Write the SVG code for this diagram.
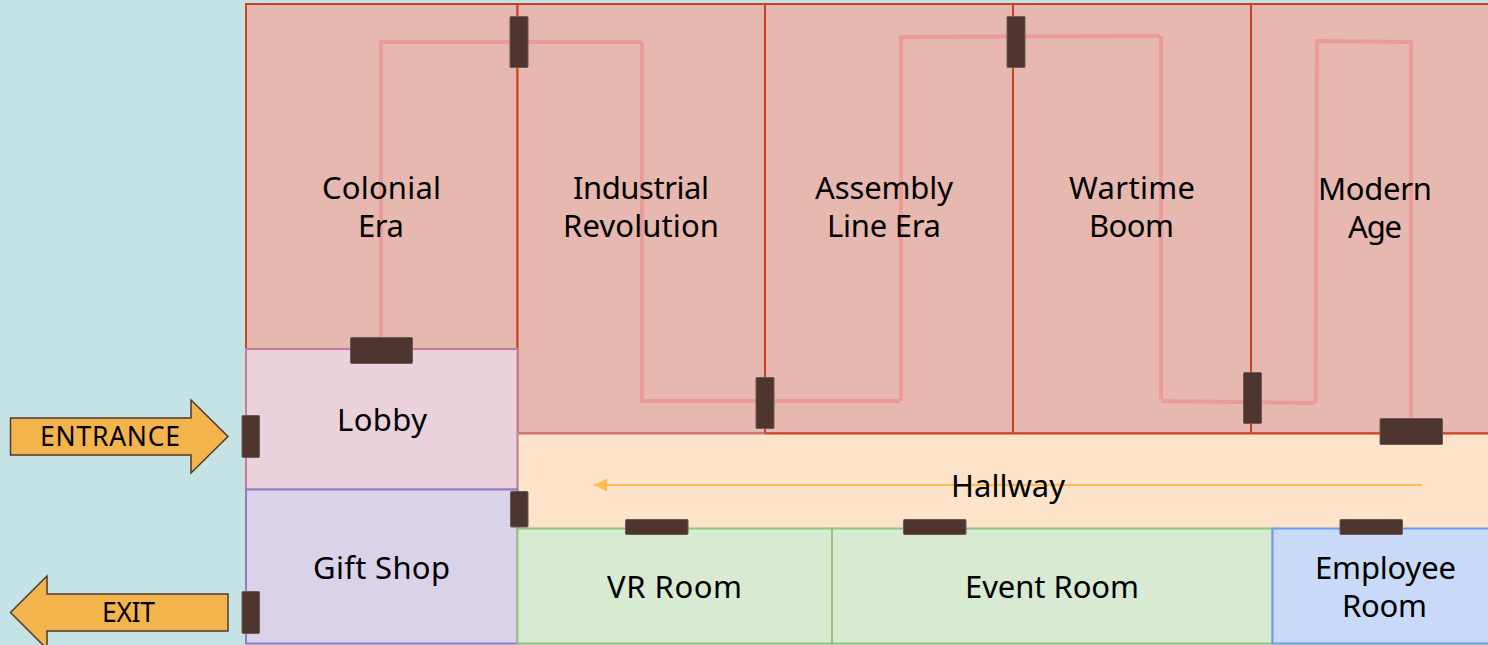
<svg xmlns="http://www.w3.org/2000/svg" width="1488" height="645" viewBox="0 0 1488 645">
<style>
.t{font-family:"Noto Sans","Open Sans",sans-serif;font-size:31px;fill:#000;text-anchor:middle}
.a{font-family:"Noto Sans","Open Sans",sans-serif;font-size:26.500px;fill:#000;text-anchor:middle}
.era{fill:#e6b8af;stroke:#cc4125;stroke-width:2}
.path{fill:none;stroke:#ea9999;stroke-width:4;opacity:.95}
.door{fill:#4e342e;stroke:#6b5a54;stroke-width:1}
.arrow{fill:#f4b44c;stroke:#4e3a2e;stroke-width:1.5}
</style>
<defs><marker id="h" markerUnits="userSpaceOnUse" markerWidth="13" markerHeight="13" refX="13" refY="6.500" orient="auto"><path d="M0 0L13 6.500L0 13z" fill="#ffbb4d"/></marker></defs>
<rect width="1488" height="645" fill="#c5e3e4"/>
<g id="colonial"><rect class="era" x="246" y="4" width="271.500" height="345"/></g>
<g id="industrial"><path class="era" d="M517.500 4H765V433.500H517.500Z"/></g>
<g id="assembly"><rect class="era" x="765" y="4" width="248" height="429.500"/></g>
<g id="wartime"><rect class="era" x="1013" y="4" width="238" height="429.500"/></g>
<g id="modern"><rect class="era" x="1251" y="4" width="239" height="429.500"/></g>
<g id="hallway-room"><path d="M517.500 433.500H1490V528H517.500Z" fill="#fde3c9"/><path d="M517.500 433.500H765" stroke="#c9737c" stroke-width="2" fill="none"/><path d="M765 433.500H1490" stroke="#cc4125" stroke-width="2" fill="none"/></g>
<g id="lobby"><rect x="246" y="349" width="271.500" height="140.500" fill="#ead1dc" stroke="#c27ba0" stroke-width="2"/></g>
<g id="giftshop"><rect x="246" y="489.500" width="271.500" height="154" fill="#d9d2e9" stroke="#8e7cc3" stroke-width="2"/></g>
<g id="vr"><rect x="517.500" y="528.500" width="314.500" height="115" fill="#d9ead3" stroke="#93c47d" stroke-width="2"/></g>
<g id="event"><rect x="832" y="528.500" width="440.500" height="115" fill="#d9ead3" stroke="#93c47d" stroke-width="2"/></g>
<g id="employee"><rect x="1272.500" y="528.500" width="218" height="115" fill="#c9daf8" stroke="#6d9eeb" stroke-width="2"/></g>
<g id="connectors">
<path class="path" d="M381 340V42H641"/><path class="path" d="M642 42V401H900"/><path class="path" d="M901 401V37L1160 36"/><path class="path" d="M1161 36V399"/><path class="path" d="M1161 401L1315 403"/><path class="path" d="M1315.500 403L1317 41L1411 42V420"/>
<path d="M1422 485H594" stroke="#ffbb4d" stroke-width="2" fill="none" marker-end="url(#h)"/>
</g>
<g id="doors">
<rect class="door" x="510" y="16.500" width="18" height="51" rx="1"/>
<rect class="door" x="1007" y="16.500" width="18" height="51" rx="1"/>
<rect class="door" x="350.500" y="337.500" width="62" height="26" rx="1"/>
<rect class="door" x="756" y="377.500" width="18" height="51" rx="1"/>
<rect class="door" x="1243.500" y="372.500" width="18" height="51" rx="1"/>
<rect class="door" x="1380" y="418.500" width="62.500" height="26" rx="1"/>
<rect class="door" x="242" y="415.500" width="17.500" height="42" rx="1"/>
<rect class="door" x="242" y="591.500" width="17.500" height="42" rx="1"/>
<rect class="door" x="510.500" y="491.500" width="17.500" height="35.500" rx="1"/>
<rect class="door" x="625.500" y="519.500" width="62.500" height="15" rx="1"/>
<rect class="door" x="903.500" y="519.500" width="62.500" height="15" rx="1"/>
<rect class="door" x="1340" y="519.500" width="62.500" height="15" rx="1"/>
</g>
<g id="entrance"><path class="arrow" d="M10.500 418H191V400L228 436.500L191 473V455H10.500Z"/><text class="a" x="110" y="446" textLength="140">ENTRANCE</text></g>
<g id="exit"><path class="arrow" d="M228 594H47V576L10.500 612.500L47 649V631H228Z"/><text class="a" x="128.500" y="622" textLength="53">EXIT</text></g>
<g id="labels">
<text class="t" x="381.500" y="199" textLength="119">Colonial</text><text class="t" x="381" y="237" textLength="46">Era</text>
<text class="t" x="641" y="199" textLength="136">Industrial</text><text class="t" x="641" y="237" textLength="156">Revolution</text>
<text class="t" x="884" y="199" textLength="138">Assembly</text><text class="t" x="884" y="237" textLength="114">Line Era</text>
<text class="t" x="1132" y="199" textLength="126">Wartime</text><text class="t" x="1131.500" y="237" textLength="85">Boom</text>
<text class="t" x="1375" y="200" textLength="114">Modern</text><text class="t" x="1375" y="238" textLength="54">Age</text>
<text class="t" x="382" y="431" textLength="90">Lobby</text>
<text class="t" x="381.500" y="579" textLength="137">Gift Shop</text>
<text class="t" x="1008" y="497" textLength="114">Hallway</text>
<text class="t" x="674.500" y="598" textLength="135">VR Room</text>
<text class="t" x="1052" y="598" textLength="174">Event Room</text>
<text class="t" x="1385.500" y="579" textLength="141">Employee</text><text class="t" x="1384.500" y="617" textLength="85">Room</text>
</g>
</svg>
